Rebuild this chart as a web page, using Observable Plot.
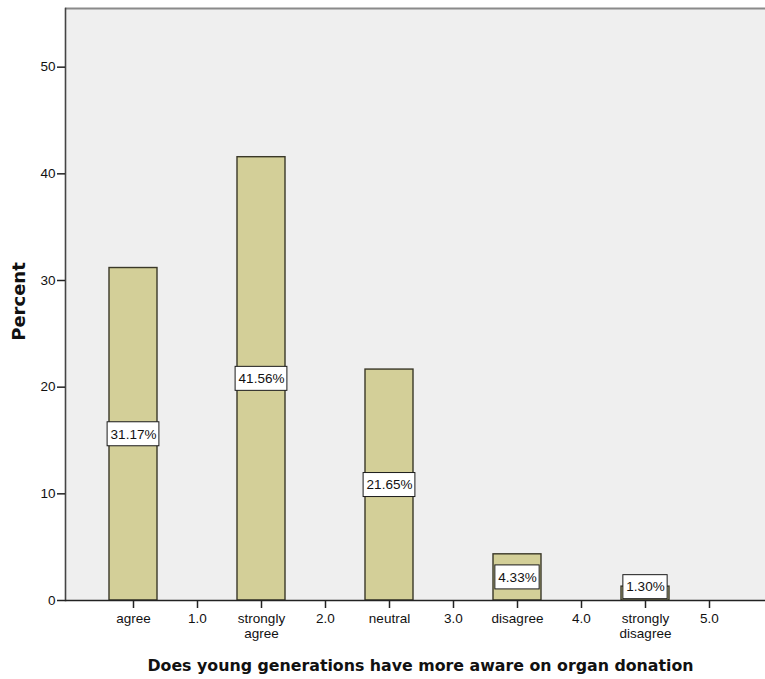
<!DOCTYPE html>
<html>
<head>
<meta charset="utf-8">
<script src="https://cdn.jsdelivr.net/npm/d3@7"></script>
<script src="https://cdn.jsdelivr.net/npm/@observablehq/plot@0.6"></script>
<style>
  body { margin: 0; background: #ffffff; }
  svg { display: block; }
</style>
</head>
<body>
<div id="chart"></div>
<script>
// Axis categories (SPSS-style: coded values interleaved with value labels)
const tickLabels = ["agree", "1.0", "strongly\nagree", "2.0", "neutral", "3.0", "disagree", "4.0", "strongly\ndisagree", "5.0"];
// Answer categories that carry a bar
const categories = ["agree", "strongly\nagree", "neutral", "disagree", "strongly\ndisagree"];
// Percent of respondents per answer
const percents = [31.17, 41.56, 21.65, 4.33, 1.30];
// Y axis ticks and extent
const yTicks = [0, 10, 20, 30, 40, 50];
const yMax = 55.5;
const xTitle = "Does young generations have more aware on organ donation";
const yTitle = "Percent";

const rows = categories.map((c, i) => ({cat: c, pct: percents[i], label: percents[i].toFixed(2) + "%"}));

// label sits at half the bar height, kept clear of the baseline
const labelY = d => Math.max(d.pct / 2, 1.25);

const labelFont = "13.5px 'Liberation Sans', Arial, sans-serif";
const ctx = document.createElement("canvas").getContext("2d");
ctx.font = labelFont;
const textWidth = s => ctx.measureText(s).width;

const bandW = 48;
const boxMarks = rows.map(d => {
  const inset = (bandW - (textWidth(d.label) + 6)) / 2;
  return Plot.barY([d], {
    x: "cat", y1: labelY, y2: labelY,
    insetTop: -12, insetBottom: -12, insetLeft: inset, insetRight: inset,
    fill: "#ffffff", stroke: "#1a1a1a", strokeWidth: 1
  });
});

const chart = Plot.plot({
  width: 765,
  height: 679,
  marginLeft: 65,
  marginRight: 0,
  marginTop: 8,
  marginBottom: 79,
  style: {fontFamily: "'Liberation Sans', Arial, sans-serif", fontSize: "13.5px", color: "#111", background: "#ffffff"},
  x: {type: "band", domain: tickLabels, range: [101, 741], paddingInner: 0.25, paddingOuter: 0.125, label: null},
  y: {domain: [0, yMax], label: null},
  marks: [
    Plot.frame({fill: "#efefef", stroke: null}),
    Plot.barY(rows, {x: "cat", y: "pct", fill: "#d3cf98", stroke: "#3a3828", strokeWidth: 1.4}),
    ...boxMarks,
    Plot.text(rows, {x: "cat", y: labelY, text: "label", fontSize: 13.5, fill: "#111"}),
    Plot.ruleY([yMax], {stroke: "#8a8a8a", strokeWidth: 2}),
    Plot.frame({anchor: "left", stroke: "#444", strokeWidth: 1.6}),
    Plot.ruleY([0], {stroke: "#222", strokeWidth: 1.6}),
    Plot.axisY(yTicks, {tickSize: 8, tickPadding: 2, fontSize: 13.5, label: null, stroke: "#222", strokeWidth: 1.5}),
    Plot.axisX({tickSize: 8, tickPadding: 4, fontSize: 13.5, lineHeight: 1.1, label: null, stroke: "#222", strokeWidth: 1.5}),
    Plot.text([xTitle], {frameAnchor: "bottom", dy: 70, dx: 5, fontFamily: "'DejaVu Sans', sans-serif", fontWeight: "bold", fontSize: 15.8, fill: "#111"}),
    Plot.text([yTitle], {frameAnchor: "left", dx: -46.5, dy: -3, rotate: -90, textAnchor: "middle", fontFamily: "'DejaVu Sans', sans-serif", fontWeight: "bold", fontSize: 18, fill: "#111"})
  ]
});

document.getElementById("chart").appendChild(chart);
</script>
</body>
</html>
